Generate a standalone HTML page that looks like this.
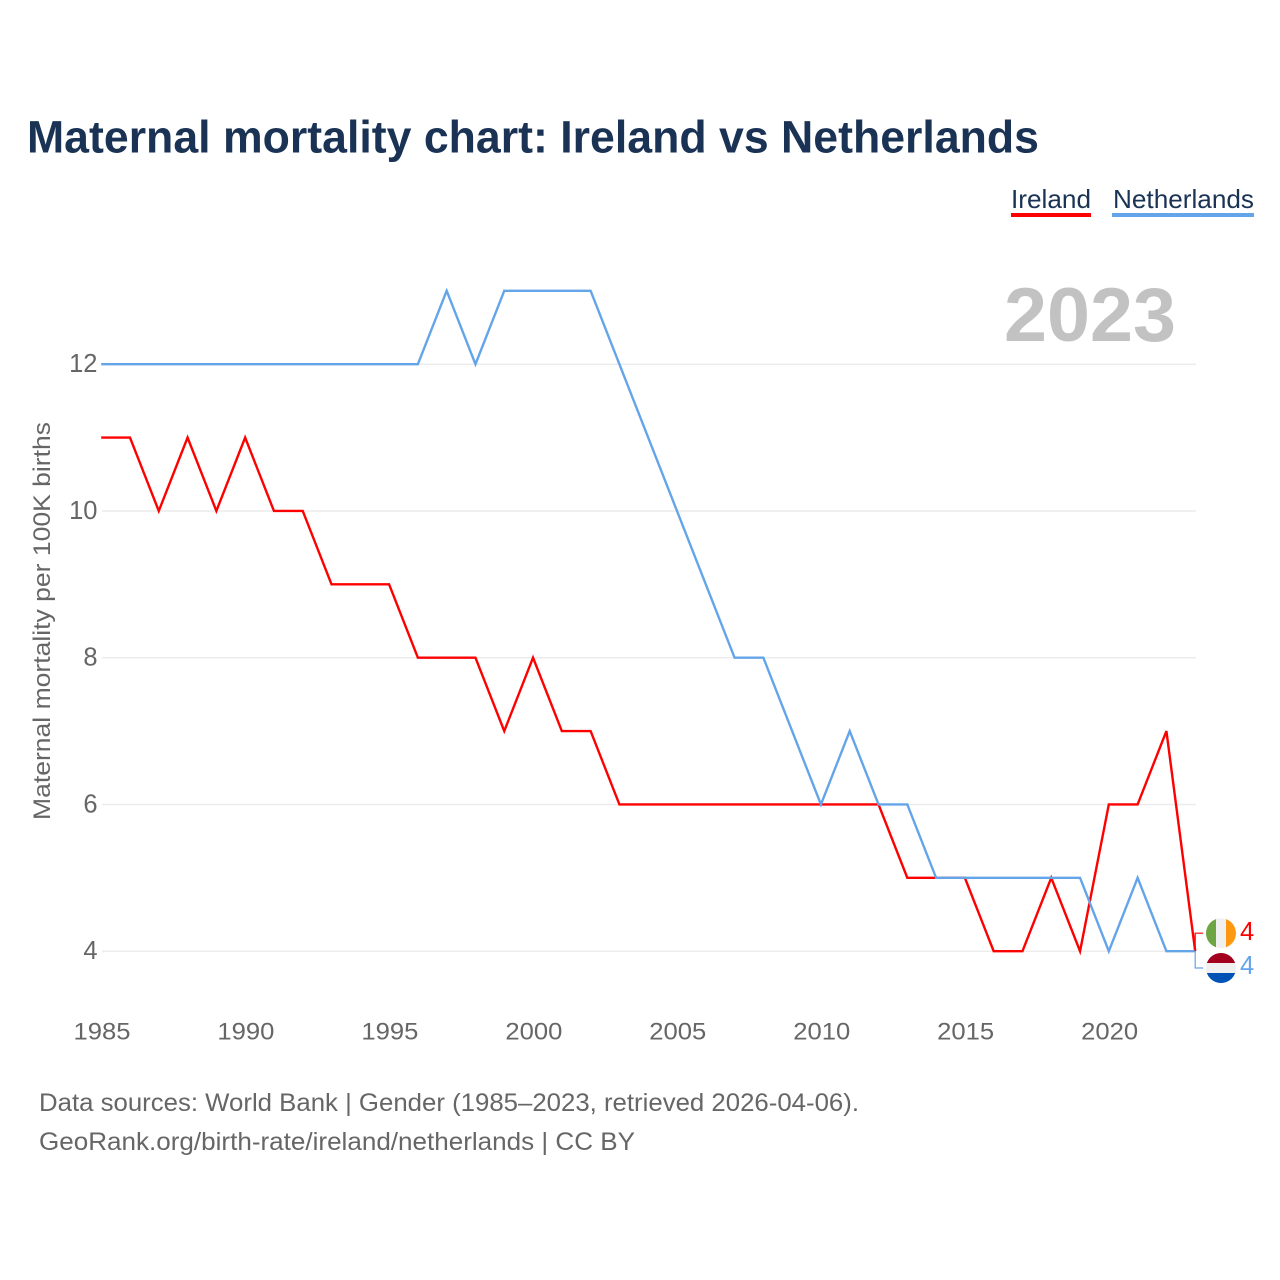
<!DOCTYPE html>
<html>
<head>
<meta charset="utf-8">
<title>Maternal mortality chart: Ireland vs Netherlands</title>
<style>
html,body{margin:0;padding:0;background:#fff;}
svg{display:block;font-family:"Liberation Sans",sans-serif;}
</style>
</head>
<body>
<svg id="chart" width="1280" height="1280" viewBox="0 0 1280 1280" xmlns="http://www.w3.org/2000/svg">
  <defs>
    <clipPath id="clip-ie"><circle id="clip-ie-c" cx="1221" cy="934" r="15"></circle></clipPath>
    <clipPath id="clip-nl"><circle id="clip-nl-c" cx="1221" cy="968" r="15"></circle></clipPath>
  </defs>
  <rect width="1280" height="1280" fill="#fff"></rect>
  <text x="27" y="152.5" font-size="45" font-weight="700" fill="#1a3355" textLength="1012" lengthAdjust="spacingAndGlyphs">Maternal mortality chart: Ireland vs Netherlands</text>

  <g>
    <g>
      <text x="1011" y="208" font-size="26" fill="#1a3355" textLength="80" lengthAdjust="spacingAndGlyphs">Ireland</text>
      <rect x="1011" y="213" width="80" height="4" fill="#ff0000"></rect>
    </g>
    <g>
      <text x="1113" y="208" font-size="26" fill="#1a3355" textLength="141" lengthAdjust="spacingAndGlyphs">Netherlands</text>
      <rect x="1112" y="213" width="142" height="4" fill="#64a5ea"></rect>
    </g>
  </g>

  <g id="grid"></g>
  <g id="y-ticks"></g>
  <g id="x-ticks"></g>

  <text x="1176" y="341" font-size="76" font-weight="700" fill="#c2c2c2" text-anchor="end" textLength="172" lengthAdjust="spacingAndGlyphs">2023</text>

  <text transform="translate(50,621) rotate(-90)" font-size="24.5" fill="#666" text-anchor="middle" textLength="398" lengthAdjust="spacingAndGlyphs">Maternal mortality per 100K births</text>

  <g id="series"></g>
  <g id="end-markers"></g>

  <text x="39" y="1111" font-size="25" fill="#666" textLength="820" lengthAdjust="spacingAndGlyphs">Data sources: World Bank | Gender (1985–2023, retrieved 2026-04-06).</text>
  <text x="39" y="1150" font-size="25" fill="#666" textLength="596" lengthAdjust="spacingAndGlyphs">GeoRank.org/birth-rate/ireland/netherlands | CC BY</text>
</svg>
<script>
const years = [1985,1986,1987,1988,1989,1990,1991,1992,1993,1994,1995,1996,1997,1998,1999,2000,2001,2002,2003,2004,2005,2006,2007,2008,2009,2010,2011,2012,2013,2014,2015,2016,2017,2018,2019,2020,2021,2022,2023];
const irelandValues = [11,11,10,11,10,11,10,10,9,9,9,8,8,8,7,8,7,7,6,6,6,6,6,6,6,6,6,6,5,5,5,4,4,5,4,6,6,7,4];
const netherlandsValues = [12,12,12,12,12,12,12,12,12,12,12,12,13,12,13,13,13,13,12,11,10,9,8,8,7,6,7,6,6,5,5,5,5,5,5,4,5,4,4];
const yTickValues = [4,6,8,10,12];
const xTickValues = [1985,1990,1995,2000,2005,2010,2015,2020];

const NS = 'http://www.w3.org/2000/svg';
const xScale = function (year) { return 101.2 + (year - 1985) * (1195.2 - 101.2) / (2023 - 1985); };
const yScale = function (v) { return 951.2 - (v - 4) * (951.2 - 364.2) / 8; };
const make = function (tag, parent) {
  const el = document.createElementNS(NS, tag);
  parent.appendChild(el);
  return el;
};
const setAll = function (el, attrs) {
  Object.keys(attrs).forEach(function (k) { el.setAttribute(k, attrs[k]); });
};

const grid = document.getElementById('grid');
const yTicks = document.getElementById('y-ticks');
const xTicks = document.getElementById('x-ticks');
yTickValues.forEach(function (v) {
  const line = make('line', grid);
  
  
  setAll(line, {x1: 102, x2: 1196, y1: yScale(v), y2: yScale(v), stroke: '#ececec', 'stroke-width': 1.5});
  const label = make('text', yTicks);
  
  
  setAll(label, {x: 97.5, y: yScale(v) + 8, 'font-size': 25.5, fill: '#666', 'text-anchor': 'end'});
  label.textContent = String(v);
});
xTickValues.forEach(function (year) {
  const label = make('text', xTicks);
  
  
  setAll(label, {x: xScale(year) + 0.8, y: 1039.5, 'font-size': 24.5, fill: '#666', 'text-anchor': 'middle', textLength: 57, lengthAdjust: 'spacingAndGlyphs'});
  label.textContent = String(year);
});

const seriesGroup = document.getElementById('series');
const linePoints = function (values) {
  return values.map(function (v, i) { return xScale(years[i]).toFixed(2) + ',' + yScale(v).toFixed(2); }).join(' ');
};
const redLine = make('polyline', seriesGroup);


setAll(redLine, {points: linePoints(irelandValues), fill: 'none', stroke: '#ff0000', 'stroke-width': 2.4, 'stroke-linejoin': 'miter'});
const blueLine = make('polyline', seriesGroup);


setAll(blueLine, {points: linePoints(netherlandsValues), fill: 'none', stroke: '#64a5ea', 'stroke-width': 2.4, 'stroke-linejoin': 'miter'});

const markers = document.getElementById('end-markers');
const endX = xScale(years[years.length - 1]);
const irelandLast = irelandValues[irelandValues.length - 1];
const netherlandsLast = netherlandsValues[netherlandsValues.length - 1];
const ieY = yScale(irelandLast) - 18;
const nlY = yScale(netherlandsLast) + 16.8;

const ieLeader = make('polyline', markers);


setAll(ieLeader, {points: endX + ',' + yScale(irelandLast) + ' ' + endX + ',' + ieY + ' ' + (endX + 8) + ',' + ieY, fill: 'none', stroke: '#ff0000', 'stroke-width': 1.2});
const nlLeader = make('polyline', markers);


setAll(nlLeader, {points: endX + ',' + yScale(netherlandsLast) + ' ' + endX + ',' + nlY + ' ' + (endX + 8) + ',' + nlY, fill: 'none', stroke: '#64a5ea', 'stroke-width': 1.2});

document.getElementById('clip-ie-c').setAttribute('cy', ieY);
document.getElementById('clip-nl-c').setAttribute('cy', nlY);

const flagIreland = make('g', markers);


flagIreland.setAttribute('clip-path', 'url(#clip-ie)');
['#6da544', '#f0f0f0', '#ff9811'].forEach(function (color, i) {
  const band = make('rect', flagIreland);
  
  
  setAll(band, {x: 1206 + i * 10, y: ieY - 15, width: 10, height: 30, fill: color});
});
const flagNetherlands = make('g', markers);


flagNetherlands.setAttribute('clip-path', 'url(#clip-nl)');
['#a2001d', '#f0f0f0', '#0052b4'].forEach(function (color, i) {
  const band = make('rect', flagNetherlands);
  
  
  setAll(band, {x: 1206, y: nlY - 15 + i * 10, width: 30, height: 10, fill: color});
});

const ieValue = make('text', markers);


setAll(ieValue, {x: 1240, y: ieY + 7, 'font-size': 25.5, fill: '#ff0000'});
ieValue.textContent = String(irelandLast);
const nlValue = make('text', markers);


setAll(nlValue, {x: 1240, y: nlY + 6, 'font-size': 25.5, fill: '#64a5ea'});
nlValue.textContent = String(netherlandsLast);
</script>
</body>
</html>
